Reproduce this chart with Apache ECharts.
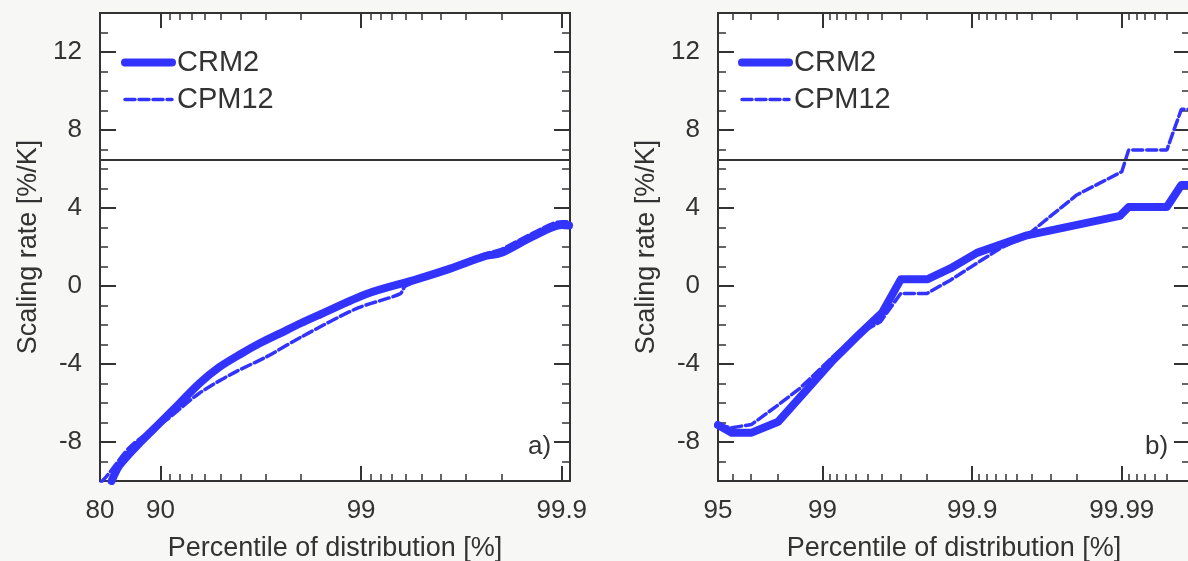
<!DOCTYPE html>
<html>
<head>
<meta charset="utf-8">
<title>Scaling rate vs percentile</title>
<script src="https://cdn.jsdelivr.net/npm/echarts@6.0.0/dist/echarts.min.js"></script>
<style>
  html, body { margin: 0; padding: 0; background: #f7f7f5; }
  #chart { width: 1188px; height: 561px; }
</style>
</head>
<body>
<div id="chart"></div>
<script>
// ---- data (percentile of distribution, scaling rate %/K) ----
// panel a)
var pctA_crm = [82.5, 84.0, 87.3, 90.1, 92.0, 93.6, 94.9, 96.0, 96.8, 97.5, 98.0, 98.4, 99.06, 99.47, 99.64, 99.76, 99.8, 99.86, 99.9, 99.908];
var valA_crm = [-10.0, -9.2, -8.05, -6.95, -6.0, -5.0, -4.17, -3.5, -2.94, -2.4, -1.91, -1.46, -0.41, 0.34, 0.89, 1.54, 1.7, 2.53, 3.13, 3.1];
var pctA_cpm = [80.3, 81.4, 86.0, 90.67, 93.6, 95.64, 97.04, 98.0, 98.95, 99.36, 99.4, 99.64, 99.76, 99.8, 99.86, 99.9, 99.908];
var valA_cpm = [-10.05, -9.78, -8.2, -6.87, -5.5, -4.48, -3.63, -2.63, -1.15, -0.4, 0.0, 0.95, 1.65, 1.88, 2.7, 3.3, 3.3];
// panel b)
var pctB_crm = [95, 95.95, 97.02, 98.02, 99.15, 99.41, 99.6, 99.7, 99.8, 99.86, 99.907, 99.957, 99.9897, 99.991, 99.995, 99.996, 99.9964];
var valB_crm = [-7.13, -7.52, -7.52, -6.96, -3.8, -2.6, -1.37, 0.34, 0.34, 0.9, 1.7, 2.6, 3.6, 4.05, 4.05, 5.18, 5.18];
var pctB_cpm = [95, 95.95, 97.02, 98.02, 98.58, 99.15, 99.41, 99.59, 99.7, 99.8, 99.86, 99.935, 99.957, 99.98, 99.99, 99.991, 99.995, 99.996, 99.9964];
var valB_cpm = [-7.13, -7.27, -7.1, -6.1, -5.25, -3.62, -2.51, -1.83, -0.38, -0.38, 0.3, 1.93, 2.6, 4.67, 5.86, 6.97, 6.97, 9.06, 9.06];

var ccRate = 6.5; // reference line

// axis ranges and ticks (percentiles)
var xRangeA = [80, 99.909];
var xRangeB = [95, 99.9965];
var xLabelsA = [80, 90, 99, 99.9];
var xMajorA = [90, 99, 99.9];
var xMinorA = [91, 92, 93, 94, 95, 96, 97, 98, 99.1, 99.2, 99.3, 99.4, 99.5, 99.6, 99.7, 99.8];
var xLabelsB = [95, 99, 99.9, 99.99];
var xMajorB = [99, 99.9, 99.99];
var xMinorB = [96, 97, 98, 99.1, 99.2, 99.3, 99.4, 99.5, 99.6, 99.7, 99.8,
  99.91, 99.92, 99.93, 99.94, 99.95, 99.96, 99.97, 99.98, 99.991, 99.992, 99.993, 99.994, 99.995];
var yRange = [-10, 14];
var yLabels = [-8, -4, 0, 4, 8, 12];
var yMinor = [-9, -7, -6, -5, -3, -2, -1, 1, 2, 3, 5, 6, 7, 9, 10, 11, 13];

var FONT = 'Liberation Sans, Arial, sans-serif';
var TXT = '#333';
var BLUE = '#3333ff';

// percentile -> position on a log scale of the exceedance (100 - p)
function tr(p) { return -Math.log10(100 - p); }
function pairs(px, vy) {
  return px.map(function (p, i) { return [tr(p), vy[i]]; });
}

function xAxes(grid, range, labels, major, minor) {
  var base = {
    type: 'value', gridIndex: grid, min: tr(range[0]), max: tr(range[1]),
    splitLine: { show: false },
    axisLine: { show: false, onZero: false }
  };
  var majStyle = { color: TXT, width: 2 };
  var minStyle = { color: TXT, width: 1.5 };
  var out = [];
  out.push(Object.assign({}, base, {
    position: 'bottom',
    name: 'Percentile of distribution [%]',
    nameLocation: 'middle', nameGap: 54,
    nameTextStyle: { fontSize: 27, fontFamily: FONT, color: TXT },
    axisTick: { show: true, inside: true, length: 15, lineStyle: majStyle, customValues: major.map(tr) },
    axisLabel: {
      show: true, margin: 17, fontSize: 26, fontFamily: FONT, color: TXT,
      customValues: labels.map(tr),
      formatter: function (v) {
        for (var i = 0; i < labels.length; i++) {
          if (Math.abs(tr(labels[i]) - v) < 1e-6) return String(labels[i]);
        }
        return '';
      }
    }
  }));
  out.push(Object.assign({}, base, {
    position: 'bottom',
    axisTick: { show: true, inside: true, length: 7, lineStyle: minStyle, customValues: minor.map(tr) },
    axisLabel: { show: false }
  }));
  out.push(Object.assign({}, base, {
    position: 'top',
    axisTick: { show: true, inside: true, length: 15, lineStyle: majStyle, customValues: major.map(tr) },
    axisLabel: { show: false }
  }));
  out.push(Object.assign({}, base, {
    position: 'top',
    axisTick: { show: true, inside: true, length: 7, lineStyle: minStyle, customValues: minor.map(tr) },
    axisLabel: { show: false }
  }));
  return out;
}

function yAxes(grid) {
  var base = {
    type: 'value', gridIndex: grid, min: yRange[0], max: yRange[1],
    splitLine: { show: false },
    axisLine: { show: false, onZero: false }
  };
  var majStyle = { color: TXT, width: 2 };
  var minStyle = { color: TXT, width: 1.5 };
  return [
    Object.assign({}, base, {
      position: 'left',
      name: 'Scaling rate [%/K]', nameLocation: 'middle', nameGap: 58,
      nameTextStyle: { fontSize: 27, fontFamily: FONT, color: TXT },
      axisTick: { show: true, inside: true, length: 16, lineStyle: majStyle, customValues: yLabels },
      axisLabel: { show: true, margin: 18, fontSize: 26, fontFamily: FONT, color: TXT, customValues: yLabels }
    }),
    Object.assign({}, base, {
      position: 'left',
      axisTick: { show: true, inside: true, length: 8, lineStyle: minStyle, customValues: yMinor },
      axisLabel: { show: false }
    }),
    Object.assign({}, base, {
      position: 'right',
      axisTick: { show: true, inside: true, length: 16, lineStyle: majStyle, customValues: yLabels },
      axisLabel: { show: false }
    }),
    Object.assign({}, base, {
      position: 'right',
      axisTick: { show: true, inside: true, length: 8, lineStyle: minStyle, customValues: yMinor },
      axisLabel: { show: false }
    })
  ];
}

function crmSeries(xi, yi, data, smooth) {
  return {
    name: 'CRM2', type: 'line', xAxisIndex: xi, yAxisIndex: yi, data: data,
    symbol: 'none', z: 3, smooth: smooth,
    lineStyle: { color: BLUE, width: 8, cap: 'round', join: 'round' },
    itemStyle: { color: BLUE },
    markLine: {
      silent: true, symbol: 'none', animation: false,
      label: { show: false },
      lineStyle: { color: '#333', width: 2, type: 'solid' },
      data: [{ yAxis: ccRate }]
    }
  };
}
function cpmSeries(xi, yi, data, smooth) {
  return {
    name: 'CPM12', type: 'line', xAxisIndex: xi, yAxisIndex: yi, data: data,
    symbol: 'none', z: 4, smooth: smooth,
    lineStyle: { color: BLUE, width: 3.5, type: [10, 4], cap: 'round' },
    itemStyle: { color: BLUE }
  };
}

function legendAt(left) {
  return {
    orient: 'vertical', left: left, top: 48, padding: 0,
    itemWidth: 47, itemHeight: 14, itemGap: 8,
    data: [
      { name: 'CRM2', lineStyle: { color: BLUE, width: 8, cap: 'round', type: 'solid' } },
      { name: 'CPM12', lineStyle: { color: BLUE, width: 3.5, type: [10, 4], cap: 'round' } }
    ],
    selectedMode: false,
    itemStyle: { opacity: 0 },
    textStyle: { fontSize: 29, fontFamily: FONT, color: TXT, lineHeight: 28 }
  };
}

var chart = echarts.init(document.getElementById('chart'));
var gridStyle = {
  show: true, backgroundColor: '#fff', borderColor: '#333', borderWidth: 2,
  containLabel: false, outerBoundsMode: 'none'
};

chart.setOption({
  animation: false,
  backgroundColor: '#f7f7f5',
  grid: [
    Object.assign({ left: 100, top: 13, width: 470, height: 468 }, gridStyle),
    Object.assign({ left: 718, top: 13, width: 472, height: 468 }, gridStyle)
  ],
  legend: [legendAt(121), legendAt(738)],
  xAxis: xAxes(0, xRangeA, xLabelsA, xMajorA, xMinorA)
    .concat(xAxes(1, xRangeB, xLabelsB, xMajorB, xMinorB)),
  yAxis: yAxes(0).concat(yAxes(1)),
  series: [
    crmSeries(0, 0, pairs(pctA_crm, valA_crm), 0.3),
    cpmSeries(0, 0, pairs(pctA_cpm, valA_cpm), 0.3),
    crmSeries(4, 4, pairs(pctB_crm, valB_crm), false),
    cpmSeries(4, 4, pairs(pctB_cpm, valB_cpm), false)
  ],
  graphic: [
    { type: 'text', left: 528, top: 434, style: { text: 'a)', font: '26px ' + FONT, fill: TXT } },
    { type: 'text', left: 1145, top: 434, style: { text: 'b)', font: '26px ' + FONT, fill: TXT } }
  ]
});
</script>
</body>
</html>
